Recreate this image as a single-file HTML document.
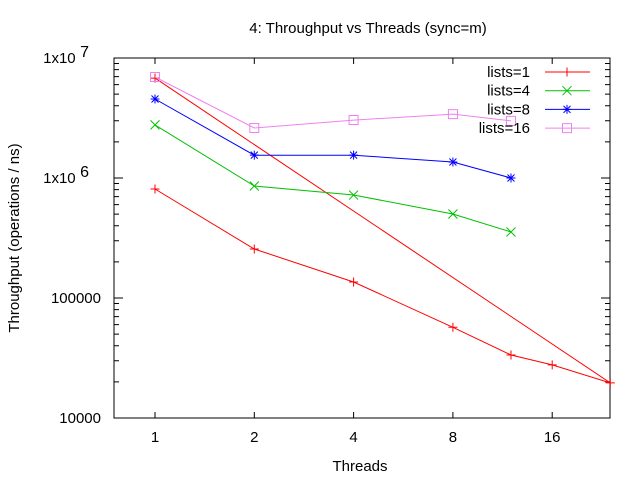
<!DOCTYPE html>
<html><head><meta charset="utf-8"><style>
body{margin:0;background:#fff;}
svg{display:block;font-family:"Liberation Sans",sans-serif;}
</style></head><body>
<svg id="chart" width="640" height="480" viewBox="0 0 640 480" xmlns="http://www.w3.org/2000/svg">
<text x="368" y="33" font-size="15" text-anchor="middle">4: Throughput vs Threads (sync=m)</text>
<text x="360" y="471" font-size="15" text-anchor="middle">Threads</text>
<text transform="translate(19,238) rotate(-90)" font-size="15" text-anchor="middle">Throughput (operations / ns)</text>
<rect x="114" y="58" width="496" height="360" fill="none" stroke="#000" stroke-width="1"/>
<g id="axes"></g>
<g id="series"></g>
<g id="legend"></g>
</svg>
<script>
const xTicks=[1,2,4,8,16];
const yTicks=[1e4,1e5,1e6,1e7];
const yTickLabels=["10000","100000","1x10","1x10"];
const seriesNames=["lists=1","lists=4","lists=8","lists=16"];
const colors=["#ff0000","#00c000","#0000ff","#ee82ee"];
const threads1=[1,2,4,8,12,16,24,1];
const values1=[810000,256000,136000,57000,33500,27700,19600,6800000];
const threads4=[1,2,4,8,12];
const values4=[2770000,858000,721000,501000,355000];
const threads8=[1,2,4,8,12];
const values8=[4550000,1550000,1550000,1360000,1000000];
const threads16=[1,2,4,8,12];
const values16=[6950000,2610000,3040000,3410000,2990000];

const NS="http://www.w3.org/2000/svg";
const L=114,R=610,T=58,B=418;
function xs(v){return 155+99.3*Math.log2(v);}
function ys(v){return B-120*(Math.log10(v)-4);}
function mk(tag,attrs,parent){const e=document.createElementNS(NS,tag);for(const k in attrs)e.setAttribute(k,attrs[k]);parent.appendChild(e);return e;}
const axes=document.getElementById('axes');
xTicks.forEach(t=>{
  const x=xs(t);
  const l=mk('path',{d:`M${x},${B}v-6M${x},${T}v6`,stroke:'#000'},axes);
  
  
  const tx=mk('text',{x:x,y:B+24,'font-size':15,'text-anchor':'middle'},axes);
  tx.textContent=t;
  
  
});
yTicks.forEach((t,i)=>{
  const y=ys(t);
  const l=mk('path',{d:`M${L},${y}h9M${R},${y}h-9`,stroke:'#000'},axes);
  
  
  if(i<yTicks.length-1){for(let m=2;m<10;m++){const yy=ys(t*m);mk('path',{d:`M${L},${yy}h5M${R},${yy}h-5`,stroke:'#000'},axes);}}
  const tx=mk('text',{x:101,y:y+5,'font-size':15,'text-anchor':'end'},axes);
  
  
  if(t>=1e6){tx.setAttribute('x',89);tx.textContent=yTickLabels[i];const s=mk('tspan',{dy:-6,'font-size':16},tx);s.textContent=" "+Math.round(Math.log10(t));}
  else tx.textContent=yTickLabels[i];
});
function marker(type,x,y,c,g){
  let d;
  if(type===0)d=`M${x-4.5},${y}h9M${x},${y-4.5}v9`;
  else if(type===1)d=`M${x-4.5},${y-4.5}l9,9M${x-4.5},${y+4.5}l9,-9`;
  else if(type===2)d=`M${x-4.5},${y}h9M${x},${y-4.5}v9M${x-3.5},${y-3.5}l7,7M${x-3.5},${y+3.5}l7,-7`;
  else d=`M${x-4.5},${y-4.5}h9v9h-9z`;
  const p=mk('path',{d:d,stroke:c,fill:'none','stroke-width':1},g);
  
  
}
const sg=document.getElementById('series');
const all=[[threads1,values1],[threads4,values4],[threads8,values8],[threads16,values16]];
all.forEach((s,i)=>{
  const g=mk('g',{},sg);
  
  
  const pts=s[0].map((t,j)=>xs(t).toFixed(1)+','+ys(s[1][j]).toFixed(1)).join(' ');
  const pl=mk('polyline',{points:pts,fill:'none',stroke:colors[i],'stroke-width':1},g);
  
  
  s[0].forEach((t,j)=>marker(i,xs(t),ys(s[1][j]),colors[i],g));
});
const lg=document.getElementById('legend');
seriesNames.forEach((n,i)=>{
  const y=72+18.7*i;
  const g=mk('g',{},lg);
  
  
  const tx=mk('text',{x:530,y:y+5,'font-size':15,'text-anchor':'end'},g);
  tx.textContent=n;
  mk('path',{d:`M545,${y}h45`,stroke:colors[i]},g);
  marker(i,567,y,colors[i],g);
});
</script>
</body></html>
